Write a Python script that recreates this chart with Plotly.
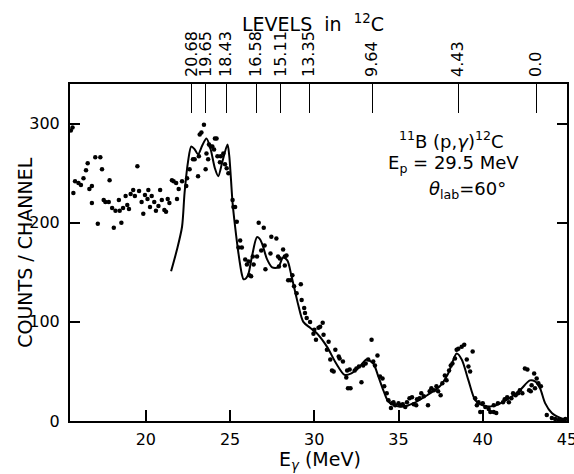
import plotly.graph_objects as go

# ---- data ----
dot_e = [15.55, 15.65, 15.7, 15.8, 16.0, 16.15, 16.3, 16.45, 16.55, 16.65, 16.8, 16.8, 17.0, 17.3, 17.4, 17.15,
         17.5, 17.6, 17.8, 17.85, 18.0, 18.1, 18.2, 18.4, 18.45, 18.55, 18.65, 18.8, 18.9, 19.0, 19.1, 19.25,
         19.35, 19.5, 19.6, 19.75, 19.85, 19.95, 20.1, 20.15, 20.25, 20.35, 20.5, 20.6, 20.75, 20.85, 20.95,
         21.1, 21.2, 21.3, 21.4, 21.55, 21.65, 21.8, 21.85, 21.95, 22.15, 22.4, 22.45, 22.6, 22.8, 22.9, 23.1,
         23.15, 23.2, 23.3, 23.45, 23.55, 23.6, 23.7, 23.75, 23.85, 23.95, 24.05, 24.1, 24.2, 24.25, 24.4,
         24.45, 24.6, 24.7, 24.8, 24.9, 25.15, 25.2, 25.3, 25.4, 25.6, 25.5, 25.7, 25.9, 26.0, 26.1, 26.15,
         26.25, 26.35, 26.4, 26.6, 26.7, 26.85, 27.05, 27.0, 27.1, 27.4, 27.45, 27.75, 27.85, 27.95, 27.9,
         28.15, 28.25, 28.35, 28.25, 28.45, 28.6, 28.7, 28.8, 28.95, 29.2, 29.25, 29.4, 29.45, 29.55, 29.75,
         29.95, 30.0, 30.1, 30.25, 30.35, 30.5, 30.55, 30.75, 30.85, 30.95, 31.05, 31.15, 31.25, 31.45, 31.5,
         31.7, 31.9, 31.95, 32.0, 32.15, 32.1, 32.4, 32.5, 32.65, 32.8, 32.9, 33.05, 33.2, 33.4, 33.5, 33.6,
         33.75, 33.9, 34.05, 34.15, 34.3, 34.4, 34.55, 34.6, 34.7, 34.8, 35.0, 35.1, 35.25, 35.4, 35.5, 35.65,
         35.8, 35.9, 36.05, 36.1, 36.25, 36.35, 36.5, 36.75, 36.85, 36.95, 37.1, 37.25, 37.35, 37.5, 37.6,
         37.75, 37.85, 38.0, 38.1, 38.2, 38.35, 38.45, 38.55, 38.75, 38.9, 39.05, 39.15, 39.25, 39.4, 39.55,
         39.65, 39.75, 39.85, 40.0, 40.15, 40.35, 40.45, 40.65, 40.8, 40.65, 40.9, 41.2, 41.3, 41.45, 41.55,
         41.7, 41.8, 41.95, 42.1, 42.2, 42.35, 42.5, 42.65, 42.75, 42.85, 42.9, 43.05, 43.1, 43.2, 43.3,
         43.45, 43.8, 44.1, 44.3, 44.5, 44.7, 44.9]
dot_counts = [293, 296, 230, 242, 240, 238, 245, 253, 260, 234, 237, 220, 266, 266, 254, 199,
              223, 221, 221, 243, 215, 195, 212, 223, 212, 200, 215, 227, 218, 214, 229, 233,
              227, 257, 232, 221, 209, 228, 224, 233, 216, 227, 221, 212, 217, 233, 223,
              213, 211, 224, 220, 243, 242, 240, 224, 234, 242, 237, 245, 254, 264, 264, 247,
              267, 289, 291, 299, 254, 270, 264, 279, 277, 277, 274, 285, 285, 267, 261,
              267, 270, 259, 255, 250, 223, 216, 216, 201, 182, 175, 175, 163, 158, 161, 147,
              146, 166, 158, 166, 200, 172, 177, 195, 153, 169, 186, 184, 166, 164, 156,
              173, 166, 167, 157, 142, 142, 147, 136, 129, 138, 122, 114, 109, 104, 100,
              88, 92, 82, 94, 95, 99, 87, 72, 80, 62, 51, 50, 72, 65, 63,
              60, 44, 51, 33, 33, 52, 51, 53, 55, 39, 56, 58, 62, 82, 60, 56,
              66, 45, 43, 35, 28, 21, 13, 18, 19, 16, 18, 16, 17, 14, 19, 23,
              24, 17, 16, 22, 23, 28, 25, 16, 30, 33, 31, 35, 30, 26, 38,
              46, 41, 51, 56, 58, 63, 72, 73, 75, 77, 62, 55, 50, 70, 23,
              16, 19, 9, 18, 14, 12, 9, 9, 8, 16, 18, 19, 22, 24, 19,
              23, 28, 26, 28, 31, 28, 53, 52, 31, 30, 36, 48, 33, 43, 38,
              35, 6, 3, 2, 1, 0.5, 2]

fit_e = [21.5, 21.85, 22.15, 22.3, 22.5, 22.7, 22.9, 23.1, 23.35, 23.6, 23.85, 24.1, 24.3, 24.55, 24.85,
         24.95, 25.05, 25.15, 25.3, 25.5, 25.7, 25.8, 25.95, 26.1, 26.3, 26.6, 26.75, 26.9, 27.2, 27.5,
         27.85, 28.15, 28.4, 28.65, 28.95, 29.05, 29.35, 29.75, 30.15, 30.75, 31.3, 31.8, 32.2, 32.7, 33.1,
         33.5, 33.8, 34.1, 34.4, 34.9, 35.3, 35.9, 36.7, 37.45, 37.95, 38.45, 38.75, 39.15, 39.55, 39.95,
         40.6, 41.4, 42.2, 42.8, 43.1, 43.4, 43.7, 44.1, 44.6, 44.95]
fit_counts = [151, 173, 196, 230, 261, 277, 274, 269, 278, 285, 274, 255, 247, 262, 279,
              268, 245, 220, 196, 169, 148, 143, 144, 149, 166, 185.5, 184, 179, 163, 155,
              155, 165, 162, 146, 124, 117, 100, 94, 88.5, 75, 58, 46.5, 48, 55, 62,
              58, 45, 31, 19.5, 15, 14.5, 18, 26, 35, 48, 68, 62, 41, 21, 16,
              15, 21, 31, 41, 40, 33, 18, 8, 3, 1]

x_ticks = [20, 25, 30, 35, 40, 45]
y_ticks = [0, 100, 200, 300]
level_labels = ["20.68", "19.65", "18.43", "16.58", "15.11", "13.35", "9.64", "4.43", "0.0"]
level_egamma = [22.74, 23.57, 24.76, 26.54, 28.02, 29.69, 33.43, 38.53, 43.16]

FONT = "DejaVu Sans"

fig = go.Figure()
fig.add_trace(go.Scatter(x=fit_e, y=fit_counts, mode="lines",
                         line=dict(color="black", width=2, shape="spline", smoothing=0.8),
                         showlegend=False, hoverinfo="skip"))
fig.add_trace(go.Scatter(x=dot_e, y=dot_counts, mode="markers",
                         marker=dict(color="black", size=4.5),
                         showlegend=False, cliponaxis=False))
fig.add_trace(go.Scatter(x=level_egamma, y=[None] * len(level_egamma), xaxis="x2",
                         mode="markers", showlegend=False, hoverinfo="skip"))

fig.update_layout(
    width=574, height=474,
    margin=dict(l=70, r=7, t=84, b=53, autoexpand=False),
    paper_bgcolor="white", plot_bgcolor="white",
    font=dict(family=FONT, color="black", size=16),
    xaxis=dict(range=[15.5, 45], tickvals=x_ticks, ticktext=[str(v) for v in x_ticks],
               ticks="inside", ticklen=11, tickwidth=1.5, tickcolor="black",
               showline=True, linecolor="black", linewidth=2, mirror=True,
               showgrid=False, zeroline=False, ticklabelstandoff=3,
               ticklabeloverflow="allow", automargin=False,
               tickfont=dict(size=16, family=FONT)),
    xaxis2=dict(range=[15.5, 45], overlaying="x", side="top", anchor="y",
                tickvals=level_egamma, ticktext=level_labels, tickangle=-90,
                ticks="inside", ticklen=29, tickwidth=1.2, tickcolor="black",
                showline=False, showgrid=False, zeroline=False,
                ticklabelstandoff=6, automargin=False,
                tickfont=dict(size=16, family=FONT)),
    yaxis=dict(range=[0, 340], tickvals=y_ticks, ticktext=[str(v) for v in y_ticks],
               ticks="inside", ticklen=10, tickwidth=1.5, tickcolor="black",
               showline=True, linecolor="black", linewidth=2, mirror="ticks",
               showgrid=False, zeroline=False, ticklabelstandoff=5, automargin=False,
               tickfont=dict(size=16, family=FONT)),
    annotations=[
        dict(text="LEVELS  in  <sup>12</sup>C", xref="paper", yref="paper", x=0.489, y=1.181,
             xanchor="center", yanchor="middle", showarrow=False, font=dict(size=19, family=FONT)),
        dict(text="COUNTS / CHANNEL", xref="paper", yref="paper", x=-0.092, y=0.50,
             xanchor="center", yanchor="middle", textangle=-90, showarrow=False,
             font=dict(size=19, family=FONT)),
        dict(text="E<sub><i>γ</i></sub> (MeV)", xref="paper", yref="paper", x=0.503, y=-0.118,
             xanchor="center", yanchor="middle", showarrow=False, font=dict(size=19, family=FONT)),
        dict(text="<sup>11</sup>B (p,<i>γ</i>)<sup>12</sup>C", xref="paper", yref="paper", x=0.768, y=0.834,
             xanchor="center", yanchor="middle", showarrow=False, font=dict(size=18, family=FONT)),
        dict(text="E<sub>p</sub> = 29.5 MeV", xref="paper", yref="paper", x=0.772, y=0.762,
             xanchor="center", yanchor="middle", showarrow=False, font=dict(size=18, family=FONT)),
        dict(text="<i>θ</i><sub>lab</sub>=60°", xref="paper", yref="paper", x=0.80, y=0.684,
             xanchor="center", yanchor="middle", showarrow=False, font=dict(size=18, family=FONT)),
    ],
)

fig.write_html("out.html", config={"displayModeBar": False},
               post_script="document.body.style.margin='0px';")
